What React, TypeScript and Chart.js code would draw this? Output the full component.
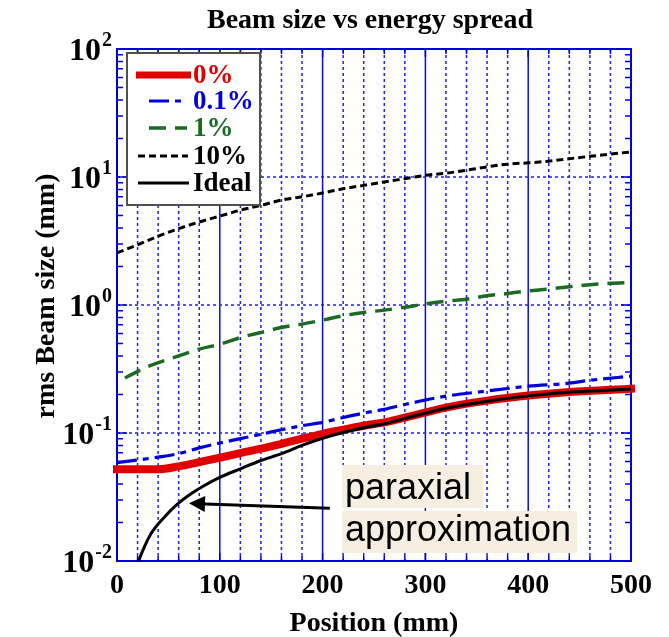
import React, { useEffect, useRef } from 'react';
import { Chart, registerables } from 'chart.js';

Chart.register(...registerables);

// ---- data (position in mm, rms beam size in mm) ----
const POS_0 = [0, 40, 60, 80, 100, 120, 140, 160, 180, 200, 220, 240, 260, 280, 320, 360, 400, 440, 500];
const SIZE_0 = [0.052, 0.052, 0.0548, 0.0593, 0.0641, 0.0697, 0.0754, 0.0824, 0.0903, 0.0985, 0.106, 0.114, 0.121, 0.132, 0.158, 0.179, 0.196, 0.209, 0.222];

const POS_01 = [0, 40, 60, 80, 100, 120, 140, 160, 180, 200, 220, 240, 260, 280, 320, 360, 400, 440, 460, 500];
const SIZE_01 = [0.0586, 0.0648, 0.069, 0.0765, 0.0835, 0.0903, 0.0977, 0.106, 0.114, 0.121, 0.132, 0.143, 0.153, 0.167, 0.194, 0.213, 0.232, 0.245, 0.258, 0.278];

const POS_1 = [0, 30, 60, 80, 100, 120, 140, 160, 180, 200, 220, 240, 260, 280, 300, 320, 340, 360, 380, 400, 420, 440, 460, 480, 500];
const SIZE_1 = [0.25, 0.33, 0.4, 0.452, 0.494, 0.557, 0.61, 0.667, 0.709, 0.762, 0.824, 0.875, 0.912, 0.96, 1.02, 1.07, 1.11, 1.18, 1.23, 1.29, 1.33, 1.39, 1.44, 1.48, 1.5];

const POS_10 = [0, 20, 40, 60, 80, 100, 120, 140, 160, 180, 200, 220, 240, 260, 280, 300, 320, 340, 360, 380, 400, 420, 440, 460, 480, 500];
const SIZE_10 = [2.55, 2.95, 3.45, 3.95, 4.45, 4.95, 5.5, 6.0, 6.6, 7.0, 7.5, 8.1, 8.6, 9.15, 9.7, 10.3, 10.7, 11.3, 12.0, 12.6, 12.9, 13.3, 13.9, 14.5, 15.1, 15.7];

const POS_IDEAL = [15, 21, 33, 46, 59, 72, 85, 100, 120, 140, 160, 180, 200, 220, 240, 260, 280, 320, 360, 400, 440, 500];
const SIZE_IDEAL = [0.0072, 0.01, 0.0163, 0.022, 0.0279, 0.0335, 0.0389, 0.045, 0.0525, 0.061, 0.0689, 0.08, 0.091, 0.101, 0.11, 0.118, 0.13, 0.156, 0.177, 0.195, 0.208, 0.221];

const SERIES_LABELS = ['0%', '0.1%', '1%', '10%', 'Ideal'];
const X_TICKS = [0, 100, 200, 300, 400, 500];
const Y_EXPONENTS = [2, 1, 0, -1, -2];
const TITLE = 'Beam size vs energy spread';
const X_TITLE = 'Position (mm)';
const Y_TITLE = 'rms Beam size (mm)';
const NOTE_LINES = ['paraxial', 'approximation'];
// arrow from the note towards the ideal curve, in data units
const ARROW_FROM = { x: 207, y: 0.0258 };
const ARROW_TO = { x: 70, y: 0.0282 };

const RED = '#e00000';
const BLUE = '#0000dd';
const GREEN = '#1b6b22';
const BLACK = '#000000';
const GRID = '#2020ee';
const SERIF = '"Liberation Serif", "Times New Roman", serif';
const SANS = '"Liberation Sans", Arial, sans-serif';

const pts = (xs: number[], ys: number[]) => xs.map((x, i) => ({ x, y: ys[i] }));

const STYLES = [
  { color: RED, width: 8, dash: [] as number[], dashOffset: 0 },
  { color: BLUE, width: 3.2, dash: [20, 6, 6, 6], dashOffset: 0 },
  { color: GREEN, width: 3.5, dash: [17, 9], dashOffset: 17 },
  { color: BLACK, width: 3, dash: [7, 4], dashOffset: 0 },
  { color: BLACK, width: 3, dash: [] as number[], dashOffset: 0 },
];

const framePlugin = {
  id: 'frame',
  beforeDatasetsDraw(chart: any) {
    const { ctx, chartArea: a, scales } = chart;
    const x = scales.x;
    const y = scales.y;
    ctx.save();
    // vertical grid: dotted every 20 mm, solid every 100 mm
    for (let v = 20; v < 500; v += 20) {
      const px = x.getPixelForValue(v);
      ctx.beginPath();
      if (v % 100 === 0) {
        ctx.setLineDash([]);
        ctx.strokeStyle = '#0a0ae6';
        ctx.lineWidth = 1.5;
      } else {
        ctx.setLineDash([3, 3]);
        ctx.strokeStyle = GRID;
        ctx.lineWidth = 1.5;
      }
      ctx.moveTo(px, a.top);
      ctx.lineTo(px, a.bottom);
      ctx.stroke();
    }
    // horizontal dotted grid at decades
    ctx.setLineDash([3, 3]);
    ctx.strokeStyle = GRID;
    ctx.lineWidth = 1.5;
    for (const e of [-1, 0, 1]) {
      const py = y.getPixelForValue(Math.pow(10, e));
      ctx.beginPath();
      ctx.moveTo(a.left, py);
      ctx.lineTo(a.right, py);
      ctx.stroke();
    }
    ctx.setLineDash([]);
    // inward ticks
    ctx.strokeStyle = '#0000dd';
    ctx.lineWidth = 1.5;
    for (let v = 20; v < 500; v += 20) {
      const px = x.getPixelForValue(v);
      const len = v % 100 === 0 ? 8 : 5;
      ctx.beginPath();
      ctx.moveTo(px, a.top);
      ctx.lineTo(px, a.top + len);
      ctx.moveTo(px, a.bottom);
      ctx.lineTo(px, a.bottom - len);
      ctx.stroke();
    }
    for (let e = -2; e < 2; e++) {
      for (let m = 1; m <= 9; m++) {
        const v = m * Math.pow(10, e);
        if (m === 1 && e === -2) continue;
        const py = y.getPixelForValue(v);
        const len = m === 1 ? 10 : 6;
        ctx.beginPath();
        ctx.moveTo(a.left, py);
        ctx.lineTo(a.left + len, py);
        ctx.moveTo(a.right, py);
        ctx.lineTo(a.right - len, py);
        ctx.stroke();
      }
    }
    // axis frame
    ctx.lineWidth = 2;
    ctx.strokeStyle = '#0000dd';
    ctx.strokeRect(a.left, a.top, a.right - a.left, a.bottom - a.top);
    ctx.restore();
  },
  afterDatasetsDraw(chart: any) {
    const { ctx, chartArea: a, scales } = chart;
    const x = scales.x;
    const y = scales.y;
    ctx.save();
    ctx.fillStyle = '#000';

    // title
    ctx.font = `bold 28px ${SERIF}`;
    ctx.textAlign = 'center';
    ctx.textBaseline = 'alphabetic';
    ctx.fillText(TITLE, 370, 28);

    // x tick labels and title
    ctx.font = `bold 28px ${SERIF}`;
    for (const v of X_TICKS) {
      ctx.fillText(String(v), x.getPixelForValue(v), a.bottom + 32);
    }
    ctx.font = `bold 28px ${SERIF}`;
    ctx.fillText(X_TITLE, (a.left + a.right) / 2, 631);

    // y tick labels 10^n
    for (const e of Y_EXPONENTS) {
      const py = y.getPixelForValue(Math.pow(10, e));
      const expText = String(e);
      ctx.font = `bold 20px ${SERIF}`;
      const ew = ctx.measureText(expText).width;
      const right = a.left - 5;
      ctx.textAlign = 'left';
      ctx.textBaseline = 'alphabetic';
      ctx.fillText(expText, right - ew, py - 3);
      ctx.font = `bold 32px ${SERIF}`;
      ctx.textAlign = 'right';
      ctx.textBaseline = 'middle';
      ctx.fillText('10', right - ew - 1, py + 3);
    }

    // y title
    ctx.save();
    ctx.translate(47, 296);
    ctx.rotate(-Math.PI / 2);
    ctx.font = `bold 28px ${SERIF}`;
    ctx.textAlign = 'center';
    ctx.textBaseline = 'middle';
    ctx.fillText(Y_TITLE, 0, 0);
    ctx.restore();

    // legend
    const lx = a.left + 10;
    const ly = a.top + 4;
    ctx.fillStyle = '#fff';
    ctx.fillRect(lx, ly, 133, 152);
    ctx.strokeStyle = '#505050';
    ctx.lineWidth = 2;
    ctx.strokeRect(lx, ly, 133, 152);
    const rowY = [22, 48, 75, 103, 130];
    const sampleX = [
      [9, 64],
      [22, 60],
      [22, 60],
      [11, 61],
      [11, 62],
    ];
    const textColors = [RED, BLUE, GREEN, BLACK, BLACK];
    SERIES_LABELS.forEach((lab, i) => {
      const s = STYLES[i];
      const yy = ly + rowY[i];
      ctx.beginPath();
      ctx.strokeStyle = s.color;
      ctx.lineWidth = i === 0 ? 7 : s.width;
      ctx.setLineDash(s.dash);
      ctx.lineDashOffset = 0;
      ctx.moveTo(lx + sampleX[i][0], yy);
      ctx.lineTo(lx + sampleX[i][1], yy);
      ctx.stroke();
      ctx.setLineDash([]);
      ctx.fillStyle = textColors[i];
      ctx.font = `bold 27px ${SERIF}`;
      ctx.textAlign = 'left';
      ctx.textBaseline = 'middle';
      ctx.fillText(lab, lx + 66, yy + 1);
    });

    // note boxes
    ctx.font = `36px ${SANS}`;
    ctx.textAlign = 'left';
    ctx.textBaseline = 'alphabetic';
    const boxes = [
      { x: 342, y: 465, w: 141, h: 43, base: 499 },
      { x: 342, y: 511, w: 235, h: 42, base: 541 },
    ];
    NOTE_LINES.forEach((t, i) => {
      const b = boxes[i];
      ctx.fillStyle = '#f6efe1';
      ctx.fillRect(b.x, b.y, b.w, b.h);
      ctx.fillStyle = '#000';
      ctx.fillText(t, b.x + 3, b.base);
    });

    // arrow
    const x0 = x.getPixelForValue(ARROW_FROM.x);
    const y0 = y.getPixelForValue(ARROW_FROM.y);
    const x1 = x.getPixelForValue(ARROW_TO.x);
    const y1 = y.getPixelForValue(ARROW_TO.y);
    const ang = Math.atan2(y1 - y0, x1 - x0);
    const headLen = 16;
    const headHalf = 8;
    const bx = x1 - headLen * Math.cos(ang);
    const by = y1 - headLen * Math.sin(ang);
    ctx.strokeStyle = '#000';
    ctx.lineWidth = 3;
    ctx.beginPath();
    ctx.moveTo(x0, y0);
    ctx.lineTo(bx, by);
    ctx.stroke();
    ctx.fillStyle = '#000';
    ctx.beginPath();
    ctx.moveTo(x1, y1);
    ctx.lineTo(bx + headHalf * Math.sin(ang), by - headHalf * Math.cos(ang));
    ctx.lineTo(bx - headHalf * Math.sin(ang), by + headHalf * Math.cos(ang));
    ctx.closePath();
    ctx.fill();

    ctx.restore();
  },
};

export default function App() {
  const ref = useRef<HTMLCanvasElement>(null);

  useEffect(() => {
    if (!ref.current) return;
    const series = [
      pts(POS_0, SIZE_0),
      pts(POS_01, SIZE_01),
      pts(POS_1, SIZE_1),
      pts(POS_10, SIZE_10),
      pts(POS_IDEAL, SIZE_IDEAL),
    ];
    const drawOrder = [4, 2, 3, 1, 0];
    const chart = new Chart(ref.current, {
      type: 'line',
      data: {
        datasets: series.map((d, i) => ({
          label: SERIES_LABELS[i],
          data: d,
          borderColor: STYLES[i].color,
          borderWidth: STYLES[i].width,
          borderDash: STYLES[i].dash,
          borderDashOffset: STYLES[i].dashOffset,
          borderCapStyle: i === 0 ? 'square' : 'butt',
          borderJoinStyle: 'round',
          pointRadius: 0,
          fill: false,
          cubicInterpolationMode: 'monotone',
          order: drawOrder[i],
          clip: i === 0 ? { left: 5, right: 5, top: 0, bottom: 0 } : 0,
        })) as any,
      },
      options: {
        responsive: false,
        animation: false,
        events: [],
        layout: { padding: { left: 117, top: 49, right: 38, bottom: 76 } },
        scales: {
          x: { type: 'linear', min: 0, max: 500, display: false },
          y: { type: 'logarithmic', min: 0.01, max: 100, display: false },
        },
        plugins: {
          legend: { display: false },
          tooltip: { enabled: false },
          title: { display: false },
        },
      },
      plugins: [framePlugin],
    });
    return () => chart.destroy();
  }, []);

  return (
    <div style={{ position: 'absolute', left: 0, top: 0, width: 669, height: 637, background: '#fff' }}>
      <canvas ref={ref} width={669} height={637} style={{ width: 669, height: 637, display: 'block' }} />
    </div>
  );
}
